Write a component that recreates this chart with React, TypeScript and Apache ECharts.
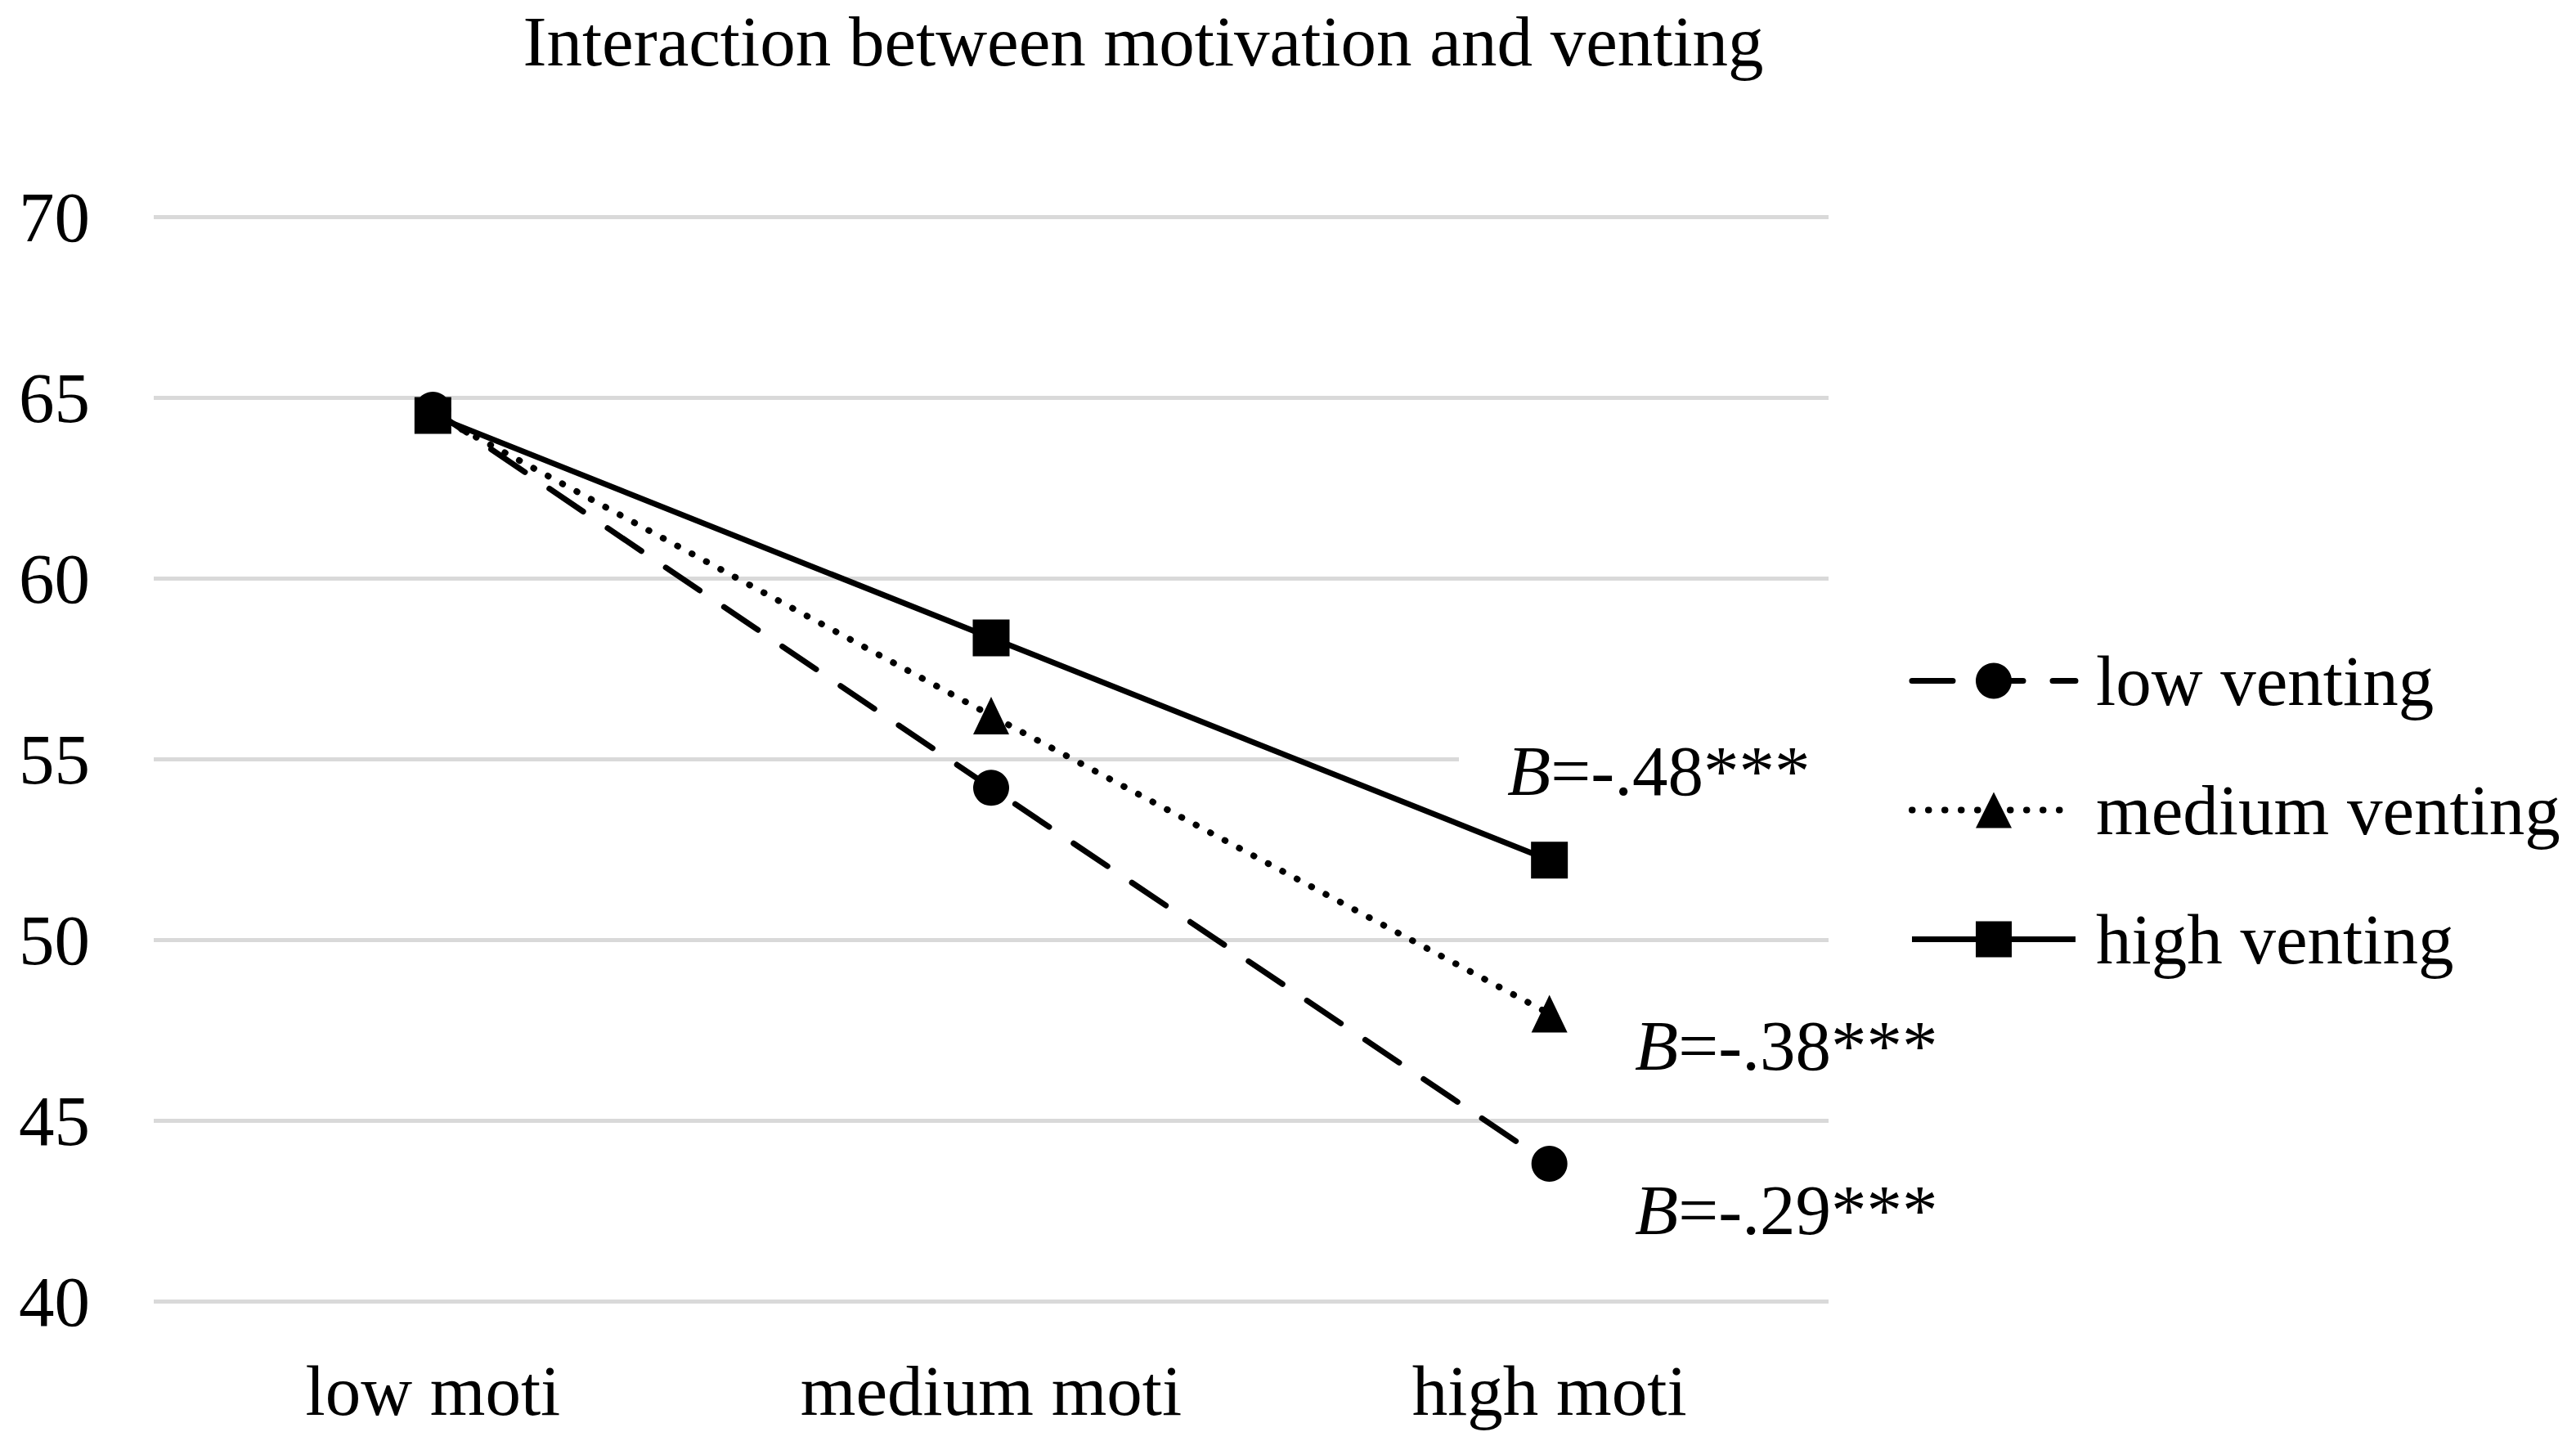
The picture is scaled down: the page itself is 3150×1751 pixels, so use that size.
import React, { useEffect, useRef } from "react";
import * as echarts from "echarts";

const categories = ["low moti", "medium moti", "high moti"];
const lowVenting = [64.66, 54.2, 43.8];
const mediumVenting = [64.55, 56.2, 47.95];
const highVenting = [64.5, 58.35, 52.2];
const seriesNames = ["low venting", "medium venting", "high venting"];
const yTicks = { min: 40, max: 70, interval: 5 };
const annotations = ["-.48***", "-.38***", "-.29***"];
const titleText = "Interaction between motivation and venting";

const FONT = '"Liberation Serif", "Times New Roman", serif';

export default function App() {
  const ref = useRef<HTMLDivElement>(null);
  useEffect(() => {
    document.body.style.margin = "0";
    document.body.style.overflow = "hidden";
    const chart = echarts.init(ref.current!, undefined, { renderer: "svg" });
    const lineStyles: any[] = [
      { color: "#000", width: 7, type: [50, 36], cap: "round" },
      { color: "#000", width: 8, type: [0.5, 19.5], cap: "round" },
      { color: "#000", width: 7, type: "solid", cap: "butt" },
    ];
    const common = {
      type: "line",
      color: "#000",
      itemStyle: { color: "#000" },
    };
    const annText = (t: string, x: number, y: number) => ({
      type: "text",
      z: 10,
      x,
      y,
      style: {
        text: "{i|B}{n|=" + t + "}",
        verticalAlign: "middle",
        rich: {
          i: { fontFamily: FONT, fontSize: 87, fontStyle: "italic", fill: "#000" },
          n: { fontFamily: FONT, fontSize: 87, fill: "#000" },
        },
      },
    });
    const option: any = {
      animation: false,
      backgroundColor: "#fff",
      textStyle: { fontFamily: FONT, color: "#000" },
      title: {
        text: titleText,
        left: 1398,
        top: 50,
        padding: 0,
        textAlign: "center",
        textVerticalAlign: "middle",
        textStyle: { fontFamily: FONT, fontSize: 87, fontWeight: "normal", color: "#000" },
      },
      grid: { left: 188, right: 914, top: 265, bottom: 160, containLabel: false },
      xAxis: {
        type: "category",
        data: categories,
        boundaryGap: true,
        axisLine: { show: false },
        axisTick: { show: false },
        axisLabel: { fontFamily: FONT, fontSize: 87, color: "#000", margin: 66 },
        splitLine: { show: false },
      },
      yAxis: {
        type: "value",
        min: yTicks.min,
        max: yTicks.max,
        interval: yTicks.interval,
        axisLine: { show: false },
        axisTick: { show: false },
        axisLabel: { fontFamily: FONT, fontSize: 87, color: "#000", margin: 78 },
        splitLine: { show: true, lineStyle: { color: "#d9d9d9", width: 5 } },
      },
      legend: {
        orient: "vertical",
        left: 2334,
        top: 789,
        padding: 0,
        itemWidth: 200,
        itemHeight: 55,
        itemGap: 71,
        data: seriesNames.map((name, i) => ({ name, lineStyle: lineStyles[i] })),
        textStyle: { fontFamily: FONT, fontSize: 87, color: "#000", padding: [0, 0, 0, 20] },
      },
      series: [
        {
          ...common,
          name: seriesNames[0],
          data: lowVenting,
          symbol: "circle",
          symbolSize: 44,
          lineStyle: lineStyles[0],
          z: 3,
        },
        {
          ...common,
          name: seriesNames[1],
          data: mediumVenting,
          symbol: "triangle",
          symbolSize: [44, 46],
          lineStyle: lineStyles[1],
          z: 4,
        },
        {
          ...common,
          name: seriesNames[2],
          data: highVenting,
          symbol: "rect",
          symbolSize: 45,
          lineStyle: lineStyles[2],
          z: 5,
        },
      ],
      graphic: [
        {
          type: "rect",
          z: 1,
          shape: { x: 1784, y: 900, width: 460, height: 85 },
          style: { fill: "#fff" },
        },
        annText(annotations[0], 1843, 942),
        annText(annotations[1], 1999, 1278),
        annText(annotations[2], 1999, 1479),
      ],
    };
    chart.setOption(option);
    return () => chart.dispose();
  }, []);
  return <div ref={ref} style={{ width: 3150, height: 1751 }} />;
}
